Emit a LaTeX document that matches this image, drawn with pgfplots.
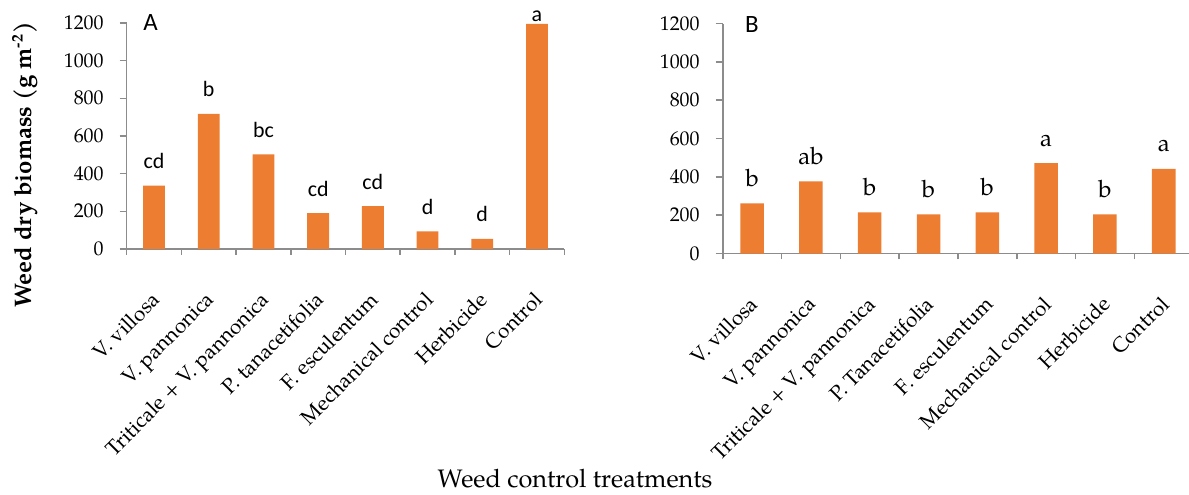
\documentclass[border=0pt]{standalone}
\usepackage{pgfplots}
\pgfplotsset{compat=1.18}
\usepackage{pgfplotstable}
\usepackage{fontspec}
\setmainfont{TeX Gyre Pagella}
\newfontfamily\calibri{Carlito}

\definecolor{barorange}{HTML}{ED7D31}
\definecolor{axisgray}{HTML}{8C8C8C}

% x, value, letter, yshift of the letter (bp)
\pgfplotstableread{
x y lab dy
1 336 cd 8.5
2 718 b 8.5
3 503 bc 8.5
4 190 cd 8.5
5 228 cd 8.5
6 94 d 8.5
7 54 d 8.5
8 1195 a 1
}\dataA
\pgfplotstableread{
x y lab dy
1 262 b 8.5
2 376 ab 8.5
3 214 b 8.5
4 204 b 8.5
5 214 b 8.5
6 471 a 8.5
7 204 b 8.5
8 442 a 8.5
}\dataB

\pgfplotsset{
  panel/.style={
    scale only axis,
    anchor=south west,
    ymin=0, ymax=1200,
    ytick={0,200,...,1200},
    xmin=0.5,
    xtick={1,...,8},
    minor xtick={0.5,1.5,...,8.5},
    major x tick style={draw=none},
    minor x tick style={draw=axisgray, line width=0.8pt},
    ytick style={draw=axisgray, line width=0.8pt},
    tick align=outside,
    major tick length=3.5bp,
    minor tick length=3bp,
    axis x line*=bottom,
    axis y line*=left,
    axis line style={draw=axisgray, line width=0.8pt},
    /pgf/number format/assume math mode=true,
    /pgf/number format/1000 sep={},
    yticklabel style={font=\fontsize{10}{10}\selectfont, xshift=-4.5bp},
    % shifts are taken in the rotated frame
    xticklabel style={font=\fontsize{10.5}{10.5}\selectfont, rotate=45, anchor=north east, inner sep=0pt, xshift=-13.4bp, yshift=-10.6bp},
    clip=false,
    ybar, bar width=0.4, bar shift=0pt,
    point meta=explicit symbolic,
    nodes near coords,
    visualization depends on={\thisrow{dy} \as \dy},
  },
}

\begin{document}
\begin{tikzpicture}
\path[use as bounding box] (0bp,0bp) rectangle (594.5bp,247.5bp);

\begin{axis}[panel,
  at={(63.35bp,123bp)},
  width=218.8bp, height=113bp,
  xmax=8.5,
  xticklabels={V. villosa, V. pannonica, Triticale + V. pannonica, P. tanacetifolia, F. esculentum, Mechanical control, Herbicide, Control},
  nodes near coords style={font=\calibri\fontsize{11}{11}\selectfont, anchor=base, inner sep=0pt, yshift=\dy bp},
]
\addplot[fill=barorange, draw=none] table[x=x, y=y, meta=lab] {\dataA};
\node[font=\calibri\fontsize{12.5}{12.5}\selectfont, anchor=base west, inner sep=0pt] at (rel axis cs:0.037,0.969) {A};
\end{axis}

\begin{axis}[panel,
  at={(361.35bp,120.75bp)},
  width=233.15bp, height=115bp,
  xmax=8.43,
  xticklabels={V. villosa, V. pannonica, Triticale + V. pannonica, P. Tanacetifolia, F. esculentum, Mechanical control, Herbicide, Control},
  nodes near coords style={font=\fontsize{12}{12}\selectfont, anchor=base, inner sep=0pt, yshift=\dy bp},
]
\addplot[fill=barorange, draw=none] table[x=x, y=y, meta=lab] {\dataB};
\node[font=\calibri\fontsize{12.5}{12.5}\selectfont, anchor=base west, inner sep=0pt] at (rel axis cs:0.047,0.962) {B};
\end{axis}

\node[rotate=90, font=\bfseries\fontsize{12}{12}\selectfont] at (12.5bp,165bp) {Weed dry biomass (g m\textsuperscript{-2})};
\node[anchor=base, font=\fontsize{12.7}{12.7}\selectfont] at (287.5bp,4bp) {Weed control treatments};
\end{tikzpicture}
\end{document}
